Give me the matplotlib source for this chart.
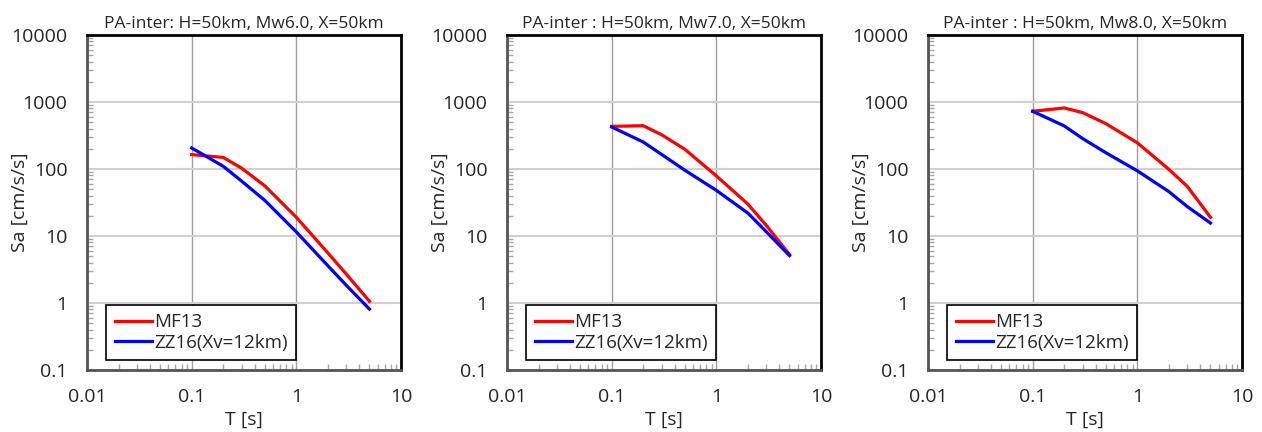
import matplotlib.pyplot as plt
import matplotlib.ticker as mticker

plt.rcParams['font.family'] = ['Open Sans', 'DejaVu Sans']

# periods [s]
periods = [0.1, 0.2, 0.3, 0.5, 1, 2, 3, 5]

# Sa [cm/s/s]
mf13_mw6 = [164, 149, 103, 56, 19, 5.6, 2.7, 1.06]
zz16_mw6 = [206, 110, 66, 34, 11.5, 3.6, 1.84, 0.81]
mf13_mw7 = [433, 443, 325, 197, 79, 30, 14.4, 5.3]
zz16_mw7 = [424, 253, 165, 96, 48, 22, 11.6, 5.1]
mf13_mw8 = [727, 815, 695, 476, 246, 99, 55, 19]
zz16_mw8 = [727, 440, 285, 175, 94, 46, 27.5, 15.6]

titles = ['PA-inter: H=50km, Mw6.0, X=50km',
          'PA-inter : H=50km, Mw7.0, X=50km',
          'PA-inter : H=50km, Mw8.0, X=50km']
series = [(mf13_mw6, zz16_mw6), (mf13_mw7, zz16_mw7), (mf13_mw8, zz16_mw8)]
lefts = [87, 507, 928]

fig = plt.figure(figsize=(12.62, 4.32), dpi=100)

for i in range(3):
    ax = fig.add_axes([lefts[i] / 1262, 1 - 370 / 432, 314 / 1262, 335 / 432])
    mf, zz = series[i]
    ax.plot(periods, mf, color='#ff0000', lw=2.3, label='MF13', solid_joinstyle='round')
    ax.plot(periods, zz, color='#0000ff', lw=2.3, label='ZZ16(Xv=12km)', solid_joinstyle='round')
    ax.set_xscale('log')
    ax.set_yscale('log')
    ax.set_xlim(0.01, 10)
    ax.set_ylim(0.1, 10000)
    ax.xaxis.set_major_locator(mticker.FixedLocator([0.01, 0.1, 1, 10]))
    ax.yaxis.set_major_locator(mticker.FixedLocator([0.1, 1, 10, 100, 1000, 10000]))
    ax.xaxis.set_major_formatter(mticker.FuncFormatter(lambda v, p: '%g' % v))
    ax.yaxis.set_major_formatter(mticker.FuncFormatter(lambda v, p: '%g' % v))
    ax.xaxis.set_minor_locator(mticker.LogLocator(subs=range(2, 10), numticks=20))
    ax.yaxis.set_minor_locator(mticker.LogLocator(subs=range(2, 10), numticks=20))
    ax.xaxis.set_minor_formatter(mticker.NullFormatter())
    ax.yaxis.set_minor_formatter(mticker.NullFormatter())
    ax.tick_params(which='major', length=0, labelsize=14, colors='#262626')
    ax.tick_params(axis='y', which='major', pad=14)
    ax.tick_params(axis='x', which='major', pad=13)
    ax.tick_params(which='minor', direction='in', length=4, width=1, color='#a6a6a6')
    ax.grid(True, axis='x', which='major', color='#a0a0a0', lw=1)
    ax.grid(True, axis='y', which='major', color='#d0d0d0', lw=1.5)
    ax.set_axisbelow(True)
    for s in ['top', 'right']:
        ax.spines[s].set_color('black')
        ax.spines[s].set_linewidth(2)
    for s in ['left', 'bottom']:
        ax.spines[s].set_color('#555555')
        ax.spines[s].set_linewidth(2)
    ax.set_title(titles[i], fontsize=12.5, pad=5, color='#262626')
    ax.set_xlabel('T [s]', fontsize=14, color='#262626', va='center')
    ax.set_ylabel('Sa [cm/s/s]', fontsize=14, color='#262626', va='center')
    ax.xaxis.set_label_coords(0.5, -0.149)
    ax.yaxis.set_label_coords(-0.213, 0.5)
    leg = ax.legend(loc='lower left', bbox_to_anchor=(0.061, 0.03), borderaxespad=0,
                    fancybox=False, edgecolor='black', framealpha=1, fontsize=13.5,
                    handlelength=2.0, handletextpad=0.1, borderpad=0.45, labelspacing=0.12)
    leg.get_frame().set_linewidth(1.2)
    for t in leg.get_texts():
        t.set_color('#262626')

fig.savefig('out.png', dpi=100)
